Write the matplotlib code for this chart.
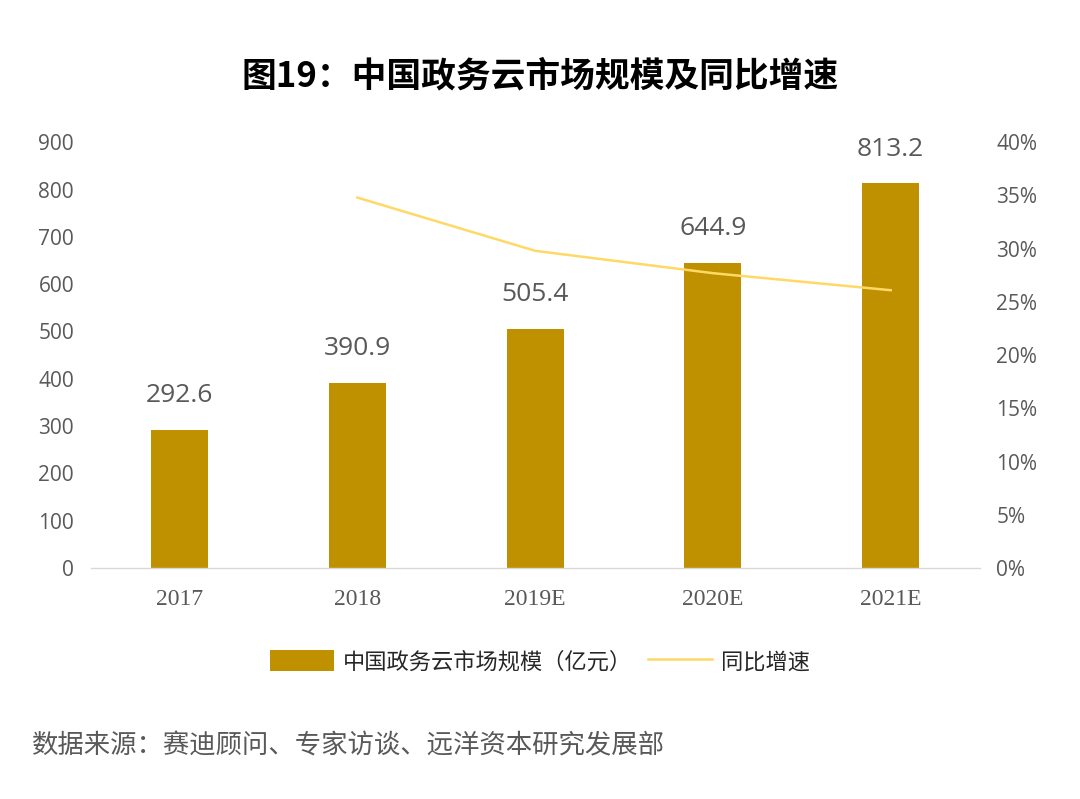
import matplotlib
matplotlib.use("Agg")
import matplotlib.pyplot as plt
from matplotlib.ticker import FuncFormatter

plt.rcParams['font.family'] = ['Noto Sans CJK SC', 'DejaVu Sans']

categories = ["2017", "2018", "2019E", "2020E", "2021E"]
market_size = [292.6, 390.9, 505.4, 644.9, 813.2]
growth_years = ["2018", "2019E", "2020E", "2021E"]
growth_rate = [0.348, 0.298, 0.277, 0.261]
left_ticks = [0, 100, 200, 300, 400, 500, 600, 700, 800, 900]
right_ticks = [0, 0.05, 0.10, 0.15, 0.20, 0.25, 0.30, 0.35, 0.40]

title = "图19：中国政务云市场规模及同比增速"
bar_label = "中国政务云市场规模（亿元）"
line_label = "同比增速"
source = "数据来源：赛迪顾问、专家访谈、远洋资本研究发展部"

bar_color = "#BF9000"
line_color = "#FFD966"
gray = "#595959"
num_font = ["Open Sans", "DejaVu Sans"]

fig = plt.figure(figsize=(10.8, 7.99), dpi=100)
ax = fig.add_axes([0.084, 0.289, 0.823, 0.533])
ax2 = ax.twinx()

x = list(range(len(categories)))
bars = ax.bar(x, market_size, width=0.32, color=bar_color, zorder=2)
for xi, v in zip(x, market_size):
    ax.text(xi, v + 46, f"{v:.1f}", ha="center", va="bottom", fontsize=19,
            color=gray, fontfamily=num_font)

gx = [categories.index(c) for c in growth_years]
line, = ax2.plot(gx, growth_rate, color=line_color, lw=1.8, zorder=3)

ax.set_xlim(-0.5, 4.5)
ax.set_ylim(0, 900)
ax.set_yticks(left_ticks)
ax2.set_ylim(0, 0.40)
ax2.set_yticks(right_ticks)
ax2.yaxis.set_major_formatter(FuncFormatter(lambda v, p: f"{v*100:.0f}%"))

ax.set_xticks(x)
ax.set_xticklabels(categories, fontfamily="Liberation Serif", fontsize=17, color=gray)
ax.tick_params(axis="x", length=0, pad=15)
ax.tick_params(axis="y", length=0, pad=12, labelsize=15, labelcolor=gray)
ax2.tick_params(axis="y", length=0, pad=12, labelsize=15, labelcolor=gray)
for lab in ax.get_yticklabels() + ax2.get_yticklabels():
    lab.set_fontfamily(num_font)

for a in (ax, ax2):
    for s in ("top", "left", "right"):
        a.spines[s].set_visible(False)
ax2.spines["bottom"].set_visible(False)
ax.spines["bottom"].set_color("#D9D9D9")
ax.spines["bottom"].set_linewidth(1.0)

fig.text(0.5, 0.905, title, ha="center", va="center", fontsize=25, fontweight="bold", color="black")

fig.legend([bars, line], [bar_label, line_label], loc="center", bbox_to_anchor=(0.5, 0.172),
           ncol=2, frameon=False, fontsize=16, handlelength=2.9, handleheight=1.1,
           columnspacing=0.7, handletextpad=0.4, labelcolor="#262626")

fig.text(0.03, 0.067, source, ha="left", va="center", fontsize=19, color=gray)

fig.savefig("out.png", dpi=100)
